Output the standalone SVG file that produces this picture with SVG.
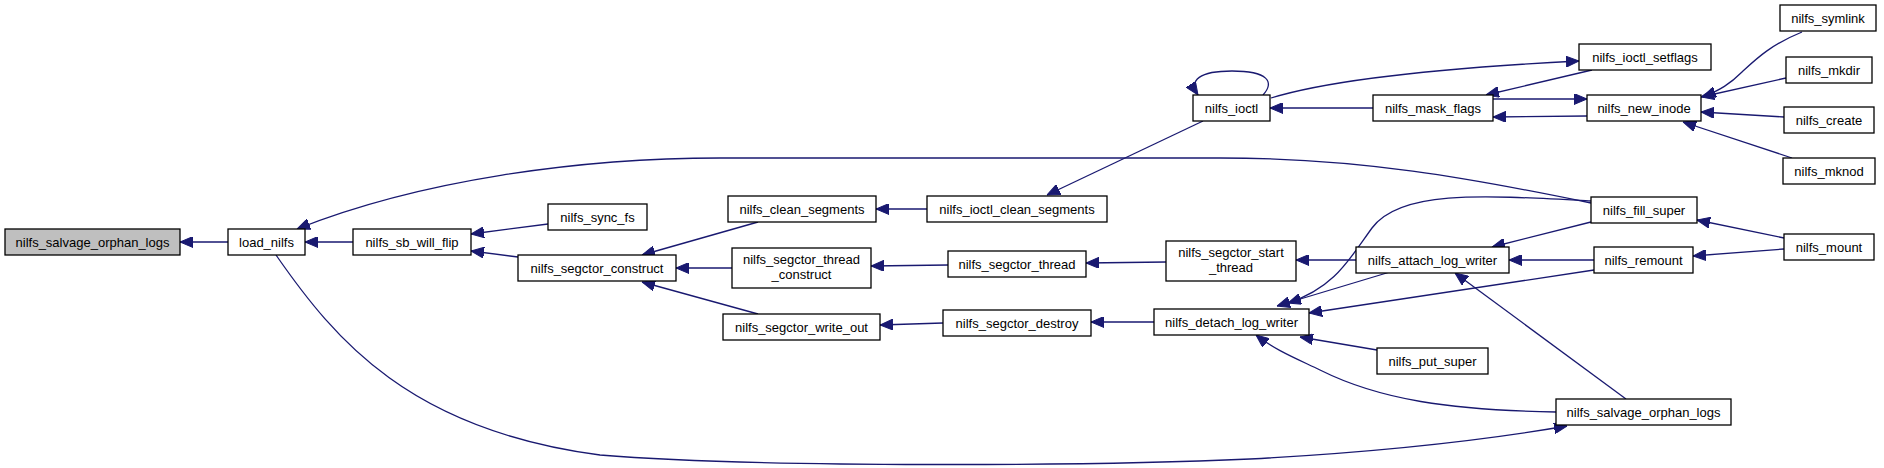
<svg xmlns="http://www.w3.org/2000/svg" width="1884" height="468" viewBox="0 0 1884 468">
<style>
.n rect{fill:#ffffff;stroke:#000000;stroke-width:1.3}
.n.main rect{fill:#bfbfbf}
.n text{font-family:"Liberation Sans",Arial,Helvetica,sans-serif;font-size:13px;fill:#000000;text-anchor:middle}
.e path{fill:none;stroke:#191970;stroke-width:1.3;marker-end:url(#ah)}
</style>
<defs>
<marker id="ah" markerUnits="userSpaceOnUse" viewBox="0 0 13 11" markerWidth="13" markerHeight="11" refX="13" refY="5.5" orient="auto">
<path d="M0,0 L13,5.5 L0,11 z" fill="#191970" stroke="#191970" stroke-width="1"/>
</marker>
</defs>
<rect width="1884" height="468" fill="#ffffff"/>
<g id="edges" class="e">
<path d="M228,242 L180,242"/>
<path d="M353,242 L305,242"/>
<path d="M1591,203 C1470,178 1360,158 1220,158 L720,158 C580,158 420,180 297,229"/>
<path d="M548,224 L471,234"/>
<path d="M518,257 L471,251"/>
<path d="M758,222 L642,255"/>
<path d="M732,268 L676,268"/>
<path d="M758,314 L642,282"/>
<path d="M927,209 L876,209"/>
<path d="M948,265 L871,266"/>
<path d="M943,323 L880,325"/>
<path d="M1203,121 L1047,195"/>
<path d="M1166,262 L1086,263"/>
<path d="M1154,322 L1091,322"/>
<path d="M1356,260 L1296,260"/>
<path d="M1591,201 C1480,195 1400,190 1372,228 C1350,258 1335,288 1288,303"/>
<path d="M1390,272 L1277,306"/>
<path d="M1594,270 L1309,313"/>
<path d="M1377,350 L1300,337"/>
<path d="M1556,412 C1450,410 1380,400 1320,370 C1295,358 1275,350 1256,335"/>
<path d="M1591,222 L1492,247"/>
<path d="M1594,260 L1509,260"/>
<path d="M1626,399 L1455,273"/>
<path d="M1784,238 L1697,220"/>
<path d="M1784,249 L1693,256"/>
<path d="M276,255 C335,340 410,430 600,455 C760,468 1100,466 1250,459 C1380,452 1480,441 1567,426"/>
<path d="M1271,98 C1330,80 1440,68 1579,61"/>
<path d="M1592,70 L1486,95"/>
<path d="M1493,99 L1587,99"/>
<path d="M1587,116 L1493,117"/>
<path d="M1373,108 L1270,108"/>
<path d="M1802,32 C1770,45 1755,60 1742,72 C1730,84 1720,90 1703,97"/>
<path d="M1786,78 L1701,97"/>
<path d="M1784,117 L1701,112"/>
<path d="M1792,158 L1683,122"/>
<path d="M1263,95 C1275,82 1268,71 1232,71 C1200,71 1188,80 1198,95"/>
</g>
<g id="n_salvage_main" class="n main"><rect x="5" y="229" width="175" height="26"/><text x="92.5" y="246.5">nilfs_salvage_orphan_logs</text></g>
<g id="n_load_nilfs" class="n"><rect x="228" y="229" width="77" height="26"/><text x="266.5" y="246.5">load_nilfs</text></g>
<g id="n_sb_will_flip" class="n"><rect x="353" y="229" width="118" height="26"/><text x="412" y="246.5">nilfs_sb_will_flip</text></g>
<g id="n_sync_fs" class="n"><rect x="548" y="204" width="99" height="26"/><text x="597.5" y="221.5">nilfs_sync_fs</text></g>
<g id="n_segctor_construct" class="n"><rect x="518" y="255" width="158" height="26"/><text x="597" y="272.5">nilfs_segctor_construct</text></g>
<g id="n_clean_segments" class="n"><rect x="728" y="196" width="148" height="26"/><text x="802" y="213.5">nilfs_clean_segments</text></g>
<g id="n_segctor_thread_construct" class="n"><rect x="732" y="248" width="139" height="40"/><text x="801.5" y="264">nilfs_segctor_thread</text><text x="801.5" y="278.5">_construct</text></g>
<g id="n_segctor_write_out" class="n"><rect x="723" y="314" width="157" height="26"/><text x="801.5" y="331.5">nilfs_segctor_write_out</text></g>
<g id="n_ioctl_clean_segments" class="n"><rect x="927" y="196" width="180" height="26"/><text x="1017" y="213.5">nilfs_ioctl_clean_segments</text></g>
<g id="n_segctor_thread" class="n"><rect x="948" y="251" width="138" height="26"/><text x="1017" y="268.5">nilfs_segctor_thread</text></g>
<g id="n_segctor_destroy" class="n"><rect x="943" y="310" width="148" height="26"/><text x="1017" y="327.5">nilfs_segctor_destroy</text></g>
<g id="n_ioctl" class="n"><rect x="1193" y="95" width="77" height="26"/><text x="1231.5" y="112.5">nilfs_ioctl</text></g>
<g id="n_segctor_start_thread" class="n"><rect x="1166" y="241" width="130" height="40"/><text x="1231" y="257">nilfs_segctor_start</text><text x="1231" y="271.5">_thread</text></g>
<g id="n_detach_log_writer" class="n"><rect x="1154" y="309" width="155" height="26"/><text x="1231.5" y="326.5">nilfs_detach_log_writer</text></g>
<g id="n_mask_flags" class="n"><rect x="1373" y="95" width="120" height="26"/><text x="1433" y="112.5">nilfs_mask_flags</text></g>
<g id="n_attach_log_writer" class="n"><rect x="1356" y="247" width="153" height="26"/><text x="1432.5" y="264.5">nilfs_attach_log_writer</text></g>
<g id="n_put_super" class="n"><rect x="1377" y="348" width="111" height="26"/><text x="1432.5" y="365.5">nilfs_put_super</text></g>
<g id="n_ioctl_setflags" class="n"><rect x="1579" y="44" width="132" height="26"/><text x="1645" y="61.5">nilfs_ioctl_setflags</text></g>
<g id="n_new_inode" class="n"><rect x="1587" y="95" width="114" height="26"/><text x="1644" y="112.5">nilfs_new_inode</text></g>
<g id="n_fill_super" class="n"><rect x="1591" y="197" width="106" height="26"/><text x="1644" y="214.5">nilfs_fill_super</text></g>
<g id="n_remount" class="n"><rect x="1594" y="247" width="99" height="26"/><text x="1643.5" y="264.5">nilfs_remount</text></g>
<g id="n_salvage_orphan_logs" class="n"><rect x="1556" y="399" width="175" height="26"/><text x="1643.5" y="416.5">nilfs_salvage_orphan_logs</text></g>
<g id="n_symlink" class="n"><rect x="1780" y="5" width="96" height="26"/><text x="1828" y="22.5">nilfs_symlink</text></g>
<g id="n_mkdir" class="n"><rect x="1786" y="57" width="86" height="26"/><text x="1829" y="74.5">nilfs_mkdir</text></g>
<g id="n_create" class="n"><rect x="1784" y="107" width="90" height="26"/><text x="1829" y="124.5">nilfs_create</text></g>
<g id="n_mknod" class="n"><rect x="1783" y="158" width="92" height="26"/><text x="1829" y="175.5">nilfs_mknod</text></g>
<g id="n_mount" class="n"><rect x="1784" y="234" width="90" height="26"/><text x="1829" y="251.5">nilfs_mount</text></g>
</svg>
